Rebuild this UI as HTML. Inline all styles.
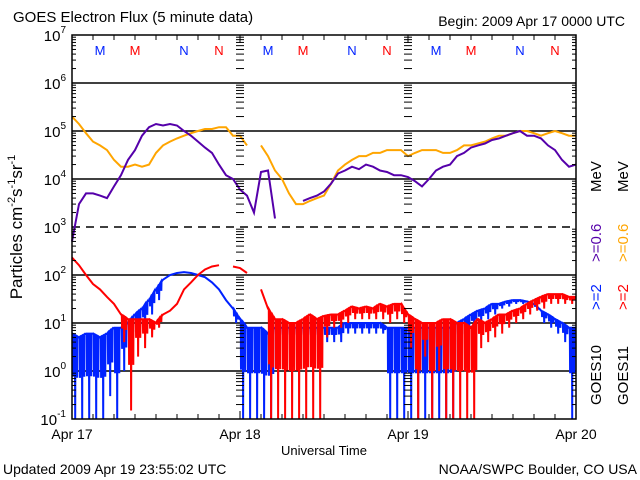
<!DOCTYPE html>
<html><head><meta charset="utf-8"><style>
html,body{margin:0;padding:0;background:#fff;}
svg{display:block;font-family:"Liberation Sans",sans-serif;}
</style></head><body>
<svg id="chart" width="640" height="480" viewBox="0 0 640 480" xmlns="http://www.w3.org/2000/svg">
<rect width="640" height="480" fill="#fff"/>
<text x="13" y="22" font-size="15">GOES Electron Flux (5 minute data)</text>
<text x="625" y="26" font-size="14" text-anchor="end">Begin: 2009 Apr 17 0000 UTC</text>
<text transform="translate(22,227) rotate(-90)" font-size="17" text-anchor="middle">Particles cm<tspan font-size="11" dy="-7">-2</tspan><tspan dy="7">s</tspan><tspan font-size="11" dy="-7">-1</tspan><tspan dy="7">sr</tspan><tspan font-size="11" dy="-7">-1</tspan></text>
<text x="324" y="455" font-size="13" text-anchor="middle">Universal Time</text>
<text x="3" y="474" font-size="14">Updated 2009 Apr 19 23:55:02 UTC</text>
<text x="637" y="474" font-size="14" text-anchor="end">NOAA/SWPC Boulder, CO USA</text>
<g id="grid"></g>
<g id="series"></g>
<g id="axes"></g>
<g id="legend">
<text transform="translate(601,405) rotate(-90)" font-size="15">GOES10</text>
<text transform="translate(601,310) rotate(-90)" font-size="15" fill="#0022ff">&gt;=2</text>
<text transform="translate(601,262) rotate(-90)" font-size="15" fill="#5500aa">&gt;=0.6</text>
<text transform="translate(601,192) rotate(-90)" font-size="15">MeV</text>
<text transform="translate(628,405) rotate(-90)" font-size="15">GOES11</text>
<text transform="translate(628,310) rotate(-90)" font-size="15" fill="#ff0000">&gt;=2</text>
<text transform="translate(628,262) rotate(-90)" font-size="15" fill="#ffa500">&gt;=0.6</text>
<text transform="translate(628,192) rotate(-90)" font-size="15">MeV</text>
</g>
</svg>
<script>
const dayLabels = ["Apr 17","Apr 18","Apr 19","Apr 20"];
const yExponents = [-1,0,1,2,3,4,5,6,7];
const markerLabels = ["M","M","N","N"];
const markerHours = [4,9,16,21];
const markerColors = ["#0022ff","#ff0000","#0022ff","#ff0000"];
// hourly values, hours 0..72
const purple06 = [5e2,3e3,5e3,5e3,4.5e3,4e3,7e3,1.2e4,2.5e4,4e4,8e4,1.2e5,1.4e5,1.3e5,1.4e5,1.3e5,1e5,8e4,6e4,4.5e4,3.5e4,2e4,1.2e4,1e4,6e3,4.5e3,2e3,1.4e4,1.5e4,1.5e3,null,null,null,3.5e3,4e3,4.5e3,5.5e3,8e3,1.3e4,1.5e4,1.8e4,1.6e4,2e4,1.8e4,1.5e4,1.4e4,1.2e4,1.2e4,1.1e4,9e3,7e3,1e4,1.5e4,1.8e4,2e4,3e4,3.5e4,4.5e4,5e4,5.5e4,6.5e4,7e4,8e4,9e4,1e5,8e4,8e4,7e4,5e4,4e4,2.5e4,1.8e4,2e4];
const orange06 = [2e5,1.4e5,9e4,6e4,5e4,4e4,2.5e4,1.8e4,1.8e4,2e4,1.8e4,2e4,3.5e4,5e4,6e4,7e4,8e4,9e4,1e5,1.1e5,1.1e5,1.2e5,1.2e5,8e4,8e4,5e4,null,5e4,3e4,1.5e4,1e4,5e3,3e3,3e3,3.5e3,4e3,4.5e3,8e3,1.5e4,2e4,2.5e4,3e4,3e4,3.5e4,3.5e4,4e4,4e4,4e4,3e4,3.5e4,4e4,4e4,4e4,3.5e4,3.5e4,4e4,5e4,5e4,5.5e4,6e4,7e4,8e4,8e4,9e4,1e5,1e5,9e4,8e4,9e4,1e5,9e4,8e4,8e4];
const blue2Hi = [6,5,6,6,5,6,8,8,10,15,20,30,50,80,100,110,115,110,100,90,70,50,30,20,12,8,8,8,6,8,8,8,8,8,8,8,8,8,8,10,10,10,10,10,10,8,8,8,8,8,8,8,8,8,8,10,12,15,18,20,25,25,28,30,30,28,25,18,15,12,10,8,8];
const blue2Lo = [0.1,0.1,0.1,0.1,0.1,0.3,0.1,1,3,5,8,15,30,80,100,110,115,110,100,90,70,50,30,10,0.1,0.1,0.1,0.1,0.1,4,4,4,4,4,4,4,4,4,4,6,6,6,6,6,6,0.1,0.1,0.1,0.1,0.1,0.1,0.1,0.1,0.1,0.1,3,5,8,10,12,15,20,22,25,25,22,20,10,8,6,4,0.1,0.1];
const red2Hi = [230,160,100,65,50,35,25,15,12,12,12,12,10,15,18,25,50,70,100,130,150,160,null,150,140,110,null,50,20,12,12,10,10,12,15,12,14,15,15,18,22,20,22,20,25,22,25,25,15,12,10,10,10,12,12,10,10,8,12,10,12,15,15,18,20,25,30,35,40,40,40,35,35];
const red2Lo = [230,160,100,65,50,35,25,4,0.15,2,3,5,8,15,18,25,50,70,100,130,150,160,null,150,140,110,null,50,0.1,0.1,0.1,0.1,0.1,0.1,0.1,0.1,5,8,8,10,12,12,12,12,12,10,12,10,3,0.1,2,0.1,1,0.1,0.1,0.1,0.1,0.1,3,4,5,6,8,10,12,15,18,20,25,25,25,25,25];

const NS="http://www.w3.org/2000/svg";
const X0=72,X1=576,Y0=419,Y1=35,HOURS=72;
function xs(h){return X0+(X1-X0)*h/HOURS;}
function ys(v){const l=Math.log10(Math.max(v,0.1));return Y0-(l+1)*(Y0-Y1)/8;}
function mk(tag,parent,attrs){const e=document.createElementNS(NS,tag);for(const k in attrs)e.setAttribute(k,attrs[k]);parent.appendChild(e);return e;}
const grid=document.getElementById('grid'),axes=document.getElementById('axes'),ser=document.getElementById('series');

yExponents.forEach(function(p){
  const y=ys(Math.pow(10,p));
  if(p>-1&&p<7){
    const l=mk('line',grid,{x1:X0,x2:X1,y1:y,y2:y,stroke:'#000','stroke-width':1.5});
    if(p===3)l.setAttribute('stroke-dasharray','8,6');
    
    
  }
  const t=mk('text',axes,{x:66,y:y+6,'font-size':15,'text-anchor':'end'});
  
  
  t.textContent='10';
  const s=document.createElementNS(NS,'tspan');s.setAttribute('font-size','10');s.setAttribute('dy','-8');s.textContent=String(p);t.appendChild(s);
  if(p<7){
    for(let m=2;m<10;m++){
      const yy=ys(m*Math.pow(10,p));const len=4;
      [[X0,X0+len],[X1-len,X1],[xs(24)-len,xs(24)+len],[xs(48)-len,xs(48)+len]].forEach(function(seg){
        mk('line',axes,{x1:seg[0],x2:seg[1],y1:yy,y2:yy,stroke:'#000','stroke-width':1});
      });
    }
  }
});
for(let h=0;h<=HOURS;h+=3){
  const len=h%24===0?8:5;
  mk('line',axes,{x1:xs(h),x2:xs(h),y1:Y0,y2:Y0-len,stroke:'#000'});
  mk('line',axes,{x1:xs(h),x2:xs(h),y1:Y1,y2:Y1+len,stroke:'#000'});
}
dayLabels.forEach(function(d,i){
  const t=mk('text',axes,{x:xs(i*24),y:439,'font-size':14,'text-anchor':'middle'});
  
  
  t.textContent=d;
});
const frame=mk('rect',axes,{x:X0,y:Y1,width:X1-X0,height:Y0-Y1,fill:'none',stroke:'#000','stroke-width':1.5});


for(let d=0;d<3;d++){
  markerHours.forEach(function(h,i){
    const t=mk('text',axes,{x:xs(d*24+h),y:55,'font-size':13,'text-anchor':'middle',fill:markerColors[i]});
    
    
    t.textContent=markerLabels[i];
  });
}
function smooth(vals,color,name){
  let d='',pen=false;
  vals.forEach(function(v,h){
    if(v==null){pen=false;return;}
    d+=(pen?'L':'M')+xs(h).toFixed(1)+','+ys(v).toFixed(1);pen=true;
  });
  const p=mk('path',ser,{d:d,fill:'none',stroke:color,'stroke-width':2});
  
  
}
const spikeOffsets=[0.15,0.45,0.75];
function noisy(hi,lo,color,name){
  let d='',pen=false;
  hi.forEach(function(v,h){
    if(v==null){pen=false;return;}
    d+=(pen?'L':'M')+xs(h).toFixed(1)+','+ys(v).toFixed(1);pen=true;
    const l=lo[h];
    if(l!=null&&l<v&&h<HOURS&&hi[h+1]!=null){
      const nv=hi[h+1];
      spikeOffsets.forEach(function(o,k){
        const m=v+(nv-v)*o;
        const lv=k===1?l:Math.sqrt(l*m);
        d+='L'+xs(h+o-0.04).toFixed(1)+','+ys(m).toFixed(1);
        d+='L'+xs(h+o).toFixed(1)+','+ys(lv).toFixed(1);
        d+='L'+xs(h+o+0.04).toFixed(1)+','+ys(m).toFixed(1);
      });
    }
  });
  const p=mk('path',ser,{d:d,fill:'none',stroke:color,'stroke-width':2,'stroke-linejoin':'miter'});
  
  
}
smooth(orange06,'#ffa500','goes11-0.6mev-line');
smooth(purple06,'#5500aa','goes10-0.6mev-line');
noisy(blue2Hi,blue2Lo,'#0022ff','goes10-2mev-line');
noisy(red2Hi,red2Lo,'#ff0000','goes11-2mev-line');
</script>
</body></html>
